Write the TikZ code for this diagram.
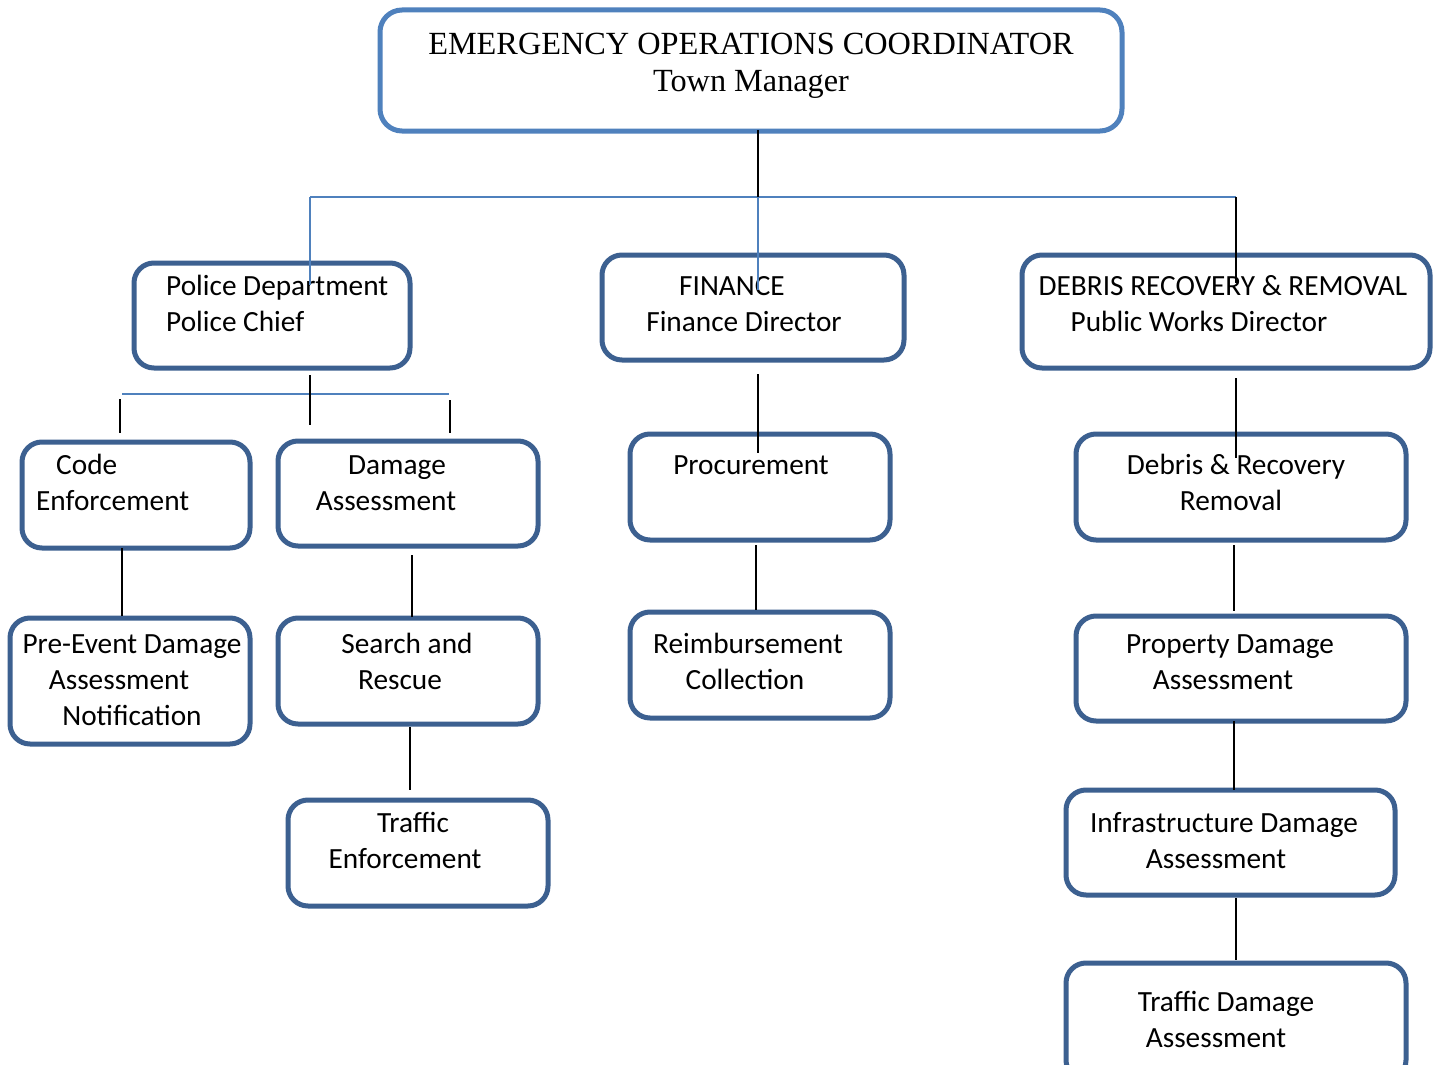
\documentclass[tikz,border=0pt]{standalone}
\usepackage{fontspec}
\setmainfont{Carlito}
\newfontfamily\timesf{Liberation Serif}
\definecolor{boxdark}{HTML}{3C6090}
\definecolor{boxlight}{HTML}{4F81BD}
\definecolor{linkblue}{HTML}{4F81BD}
\tikzset{
  orgbox/.style={draw=boxdark, line width=5pt, rounded corners=20pt, inner sep=0pt, fill=none},
  topbox/.style={draw=boxlight, line width=5pt, rounded corners=22pt, inner sep=0pt},
  lbl/.style={anchor=base, inner sep=0pt, font=\fontsize{29.3}{36}\selectfont},
  lblw/.style={anchor=base west, inner sep=0pt, font=\fontsize{29.3}{36}\selectfont},
  toplbl/.style={anchor=base, inner sep=0pt, font=\timesf\fontsize{32.3}{37}\selectfont},
  blk/.style={draw=black, line width=2pt},
  blu/.style={draw=linkblue, line width=2pt}
}
\begin{document}
\begin{tikzpicture}[x=1pt,y=-1pt]
\useasboundingbox (0,0) rectangle (1436,1065);
\clip (0,0) rectangle (1436,1065);
\fill[white] (0,0) rectangle (1436,1065);

% boxes
\node[topbox, minimum width=742pt, minimum height=121pt] (top) at (751,70.5) {};
\node[orgbox, minimum width=276pt, minimum height=105pt] (pol) at (272,315.5) {};
\node[orgbox, minimum width=302pt, minimum height=105pt] (fin) at (753,307.5) {};
\node[orgbox, minimum width=408pt, minimum height=113pt] (deb) at (1226,311.5) {};
\node[orgbox, minimum width=228pt, minimum height=106pt] (code) at (136,495) {};
\node[orgbox, minimum width=260pt, minimum height=105pt] (dam) at (408,493.5) {};
\node[orgbox, minimum width=240pt, minimum height=126pt] (pre) at (130,681) {};
\node[orgbox, minimum width=260pt, minimum height=106pt] (sar) at (408,671) {};
\node[orgbox, minimum width=260pt, minimum height=106pt] (tre) at (418,853) {};
\node[orgbox, minimum width=260pt, minimum height=106pt] (pro) at (760,487) {};
\node[orgbox, minimum width=260pt, minimum height=106pt] (rei) at (760,665) {};
\node[orgbox, minimum width=330pt, minimum height=106pt] (drr) at (1241,487) {};
\node[orgbox, minimum width=330pt, minimum height=105pt] (pda) at (1241,668.5) {};
\node[orgbox, minimum width=329pt, minimum height=105pt] (ida) at (1230.5,842.5) {};
\node[orgbox, minimum width=340pt, minimum height=117pt] (tda) at (1236,1021.5) {};

% labels
\node[toplbl] (topa) at (751,55) {EMERGENCY OPERATIONS COORDINATOR};
\node[toplbl] (topb) at (751,92) {Town Manager};
\node[lblw] (pola) at (166,295) {Police Department};
\node[lblw] (polb) at (166,331) {Police Chief};
\node[lblw] (codea) at (56,474) {Code};
\node[lblw] (codeb) at (36,510) {Enforcement};
\node[lbl] (dama) at (397,474) {Damage};
\node[lbl] (damb) at (386,510) {Assessment};
\node[lbl] (prea) at (132,653) {Pre-Event Damage};
\node[lbl] (preb) at (119,689) {Assessment};
\node[lbl] (prec) at (132,725) {Notification};
\node[lbl] (sara) at (407,653) {Search and};
\node[lbl] (sarb) at (400,689) {Rescue};
\node[lbl] (trea) at (413,832) {Traffic};
\node[lbl] (treb) at (405,868) {Enforcement};
\node[lbl] (fina) at (732,295) {FINANCE};
\node[lbl] (finb) at (744,331) {Finance Director};
\node[lbl] (proa) at (751,474) {Procurement};
\node[lbl] (reia) at (748,653) {Reimbursement};
\node[lbl] (reib) at (745,689) {Collection};
\node[lbl] (deba) at (1223,295) {DEBRIS RECOVERY \& REMOVAL};
\node[lbl] (debb) at (1199,331) {Public Works Director};
\node[lbl] (drra) at (1236,474) {Debris \& Recovery};
\node[lbl] (drrb) at (1231,510) {Removal};
\node[lbl] (pdaa) at (1230,653) {Property Damage};
\node[lbl] (pdab) at (1223,689) {Assessment};
\node[lbl] (idaa) at (1224,832) {Infrastructure Damage};
\node[lbl] (idab) at (1216,868) {Assessment};
\node[lbl] (tdaa) at (1226,1011) {Traffic Damage};
\node[lbl] (tdab) at (1216,1047) {Assessment};

% connector coordinates
\coordinate (c1a) at (758,130);
\coordinate (c1b) at (758,197);
\coordinate (hl) at (310,197);
\coordinate (hr) at (1236,197);
\coordinate (polin) at (310,285);
\coordinate (finin) at (758,290);
\coordinate (debin) at (1236,283);
\coordinate (pol1) at (310,375);
\coordinate (pol2) at (310,425);
\coordinate (ph1) at (122,394);
\coordinate (ph2) at (449,394);
\coordinate (cd1) at (120,399);
\coordinate (cd2) at (120,433);
\coordinate (dm1) at (450,400);
\coordinate (dm2) at (450,433);
\coordinate (ce1) at (122,548);
\coordinate (ce2) at (122,616);
\coordinate (da1) at (412,555);
\coordinate (da2) at (412,617);
\coordinate (sr1) at (410,727);
\coordinate (sr2) at (410,790);
\coordinate (fn1) at (758,374);
\coordinate (fn2) at (758,453);
\coordinate (pr1) at (756,545);
\coordinate (pr2) at (756,610);
\coordinate (db1) at (1236,378);
\coordinate (db2) at (1236,458);
\coordinate (dr1) at (1234,545);
\coordinate (dr2) at (1234,611);
\coordinate (pd1) at (1234,721);
\coordinate (pd2) at (1234,790);
\coordinate (id1) at (1236,898);
\coordinate (id2) at (1236,960);

% connectors
\draw[blu] (hl) -- (hr);
\draw[blu] (hl) -- (polin);
\draw[blu] (c1b) -- (finin);
\draw[blk] (c1a) -- (c1b);
\draw[blk] (hr) -- (debin);
\draw[blu] (ph1) -- (ph2);
\draw[blk] (pol1) -- (pol2);
\draw[blk] (cd1) -- (cd2);
\draw[blk] (dm1) -- (dm2);
\draw[blk] (ce1) -- (ce2);
\draw[blk] (da1) -- (da2);
\draw[blk] (sr1) -- (sr2);
\draw[blk] (fn1) -- (fn2);
\draw[blk] (pr1) -- (pr2);
\draw[blk] (db1) -- (db2);
\draw[blk] (dr1) -- (dr2);
\draw[blk] (pd1) -- (pd2);
\draw[blk] (id1) -- (id2);
\end{tikzpicture}
\end{document}
